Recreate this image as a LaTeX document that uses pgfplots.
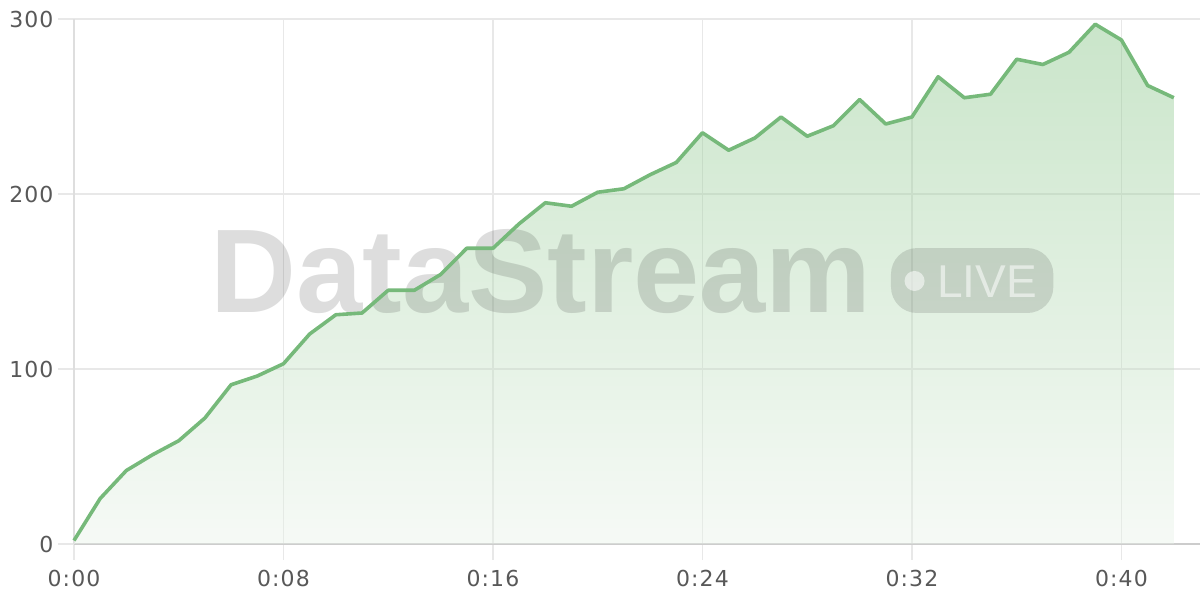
\documentclass[border=0pt]{standalone}
\usepackage{pgfplots}
\pgfplotsset{compat=1.18}
\usepackage{fontspec}
\setmainfont{DejaVu Sans}
\newfontfamily\tickfont[LetterSpace=5]{DejaVu Sans}
\newfontfamily\wmfont{Liberation Sans}
\definecolor{linegreen}{RGB}{118,185,122}
\definecolor{topgreen}{RGB}{122,190,122}
\definecolor{botgreen}{RGB}{232,242,232}
\definecolor{gridc}{RGB}{232,232,232}
\definecolor{ticktext}{RGB}{88,88,88}
\pgfplotstableread{
t v
0 2
1 26
2 42
3 51
4 59
5 72
6 91
7 96
8 103
9 120
10 131
11 132
12 145
13 145
14 154
15 169
16 169
17 183
18 195
19 193
20 201
21 203
22 211
23 218
24 235
25 225
26 232
27 244
28 233
29 239
30 254
31 240
32 244
33 267
34 255
35 257
36 277
37 274
38 281
39 297
40 288
41 262
42 255
}\datatable
\begin{document}
\begin{tikzpicture}[x=1pt,y=1pt]
\path[use as bounding box] (0,0) rectangle (1200,600);
\begin{axis}[
  at={(74pt,56pt)}, anchor=south west,
  scale only axis, width=1126pt, height=525pt,
  xmin=0, xmax=43, ymin=0, ymax=300,
  xtick={0,8,16,24,32,40},
  xticklabels={0:00,0:08,0:16,0:24,0:32,0:40},
  ytick={0,100,200,300},
  grid=major,
  grid style={draw=gridc, line width=1.2pt},
  major tick length=16pt,
  tick align=outside,
  tick style={draw=gridc, line width=1.2pt},
  axis x line*=bottom, axis y line*=left,
  x axis line style={draw=black!20, line width=2pt, -},
  y axis line style={draw=black!13, line width=1.2pt, -},
  every tick label/.append style={text=ticktext, font=\tickfont\fontsize{22}{26}\selectfont},
  xticklabel style={yshift=-7pt},
  yticklabel style={xshift=-1pt},
  /pgf/number format/assume math mode=true,
  clip=false,
]
\addplot[draw=none, top color=topgreen, bottom color=botgreen, fill opacity=0.4] table[x=t,y=v]{\datatable} \closedcycle;
\node[anchor=base west, inner sep=0, text=black, opacity=0.135, font=\wmfont\bfseries\fontsize{119}{122}\selectfont] at (axis cs:5.2,132) {DataStream};
\fill[black, opacity=0.12, rounded corners=26pt] (axis cs:31.2,132) rectangle (axis cs:37.4,169.1);
\fill[white, opacity=0.55] (axis cs:32.1,150.3) circle[radius=10pt];
\node[anchor=base west, inner sep=0, text=white, opacity=0.55, font=\wmfont\fontsize{46}{48}\selectfont] at (axis cs:32.95,140.6) {LIVE};
\addplot[linegreen, line width=3.6pt, line join=round] table[x=t,y=v]{\datatable};
\end{axis}
\end{tikzpicture}
\end{document}
